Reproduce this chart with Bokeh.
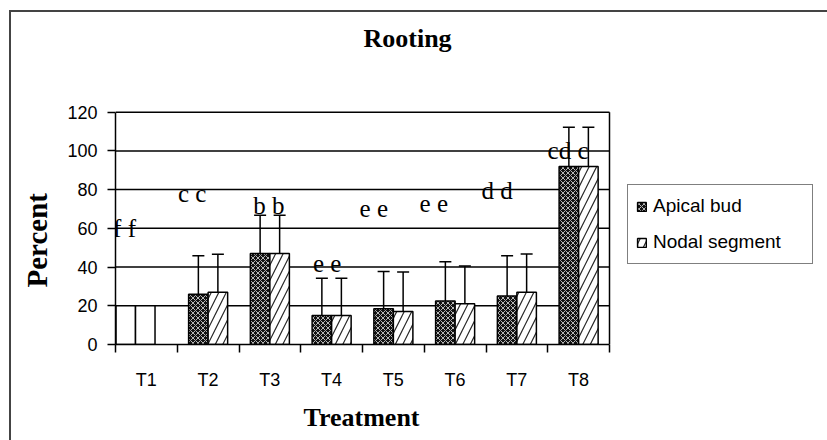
from bokeh.plotting import figure
from bokeh.models import (Range1d, FixedTicker, ColumnDataSource, Whisker, TeeHead,
                          Title, Legend, LegendItem)
from bokeh.core.properties import value
from bokeh.embed import file_html
from bokeh.resources import INLINE

# ---- data ----
categories = ["T1", "T2", "T3", "T4", "T5", "T6", "T7", "T8"]
apical = [20, 26, 47, 15, 18.5, 22.5, 25, 92]
nodal = [20, 27, 47, 15, 17, 21, 27, 92]
apical_err = [None, 19.8, 19.7, 19.2, 19.2, 20.3, 20.9, 20.2]
nodal_err = [None, 19.6, 19.7, 19.2, 20.4, 19.6, 19.8, 20.2]
letters = ["f f", "c c", "b b", "e e", "e e", "e e", "d d", "cd c"]
yticks = [0, 20, 40, 60, 80, 100, 120]

# ---- layout constants ----
W = 0.316                      # bar width (category units)
first_shift = -0.176           # first group drawn shifted in the original
letter_dx = [-0.354, -0.258, -0.017, -0.072, -0.317, -0.345, -0.319, -0.172]
letter_y = [60, 78, 71.6, 41.6, 70.4, 73, 79.5, 100]

n = len(categories)
centers = [i + 0.5 for i in range(n)]
shift = [first_shift if i == 0 else 0.0 for i in range(n)]
ax = [centers[i] + shift[i] - W / 2 for i in range(n)]
nx = [centers[i] + shift[i] + W / 2 for i in range(n)]
hatch_a = [" " if e is None else "x" for e in apical_err]
hatch_n = [" " if e is None else "/" for e in nodal_err]
fill_a = ["white" if e is None else "#111111" for e in apical_err]

FIG_W, FIG_H = 827, 440
LEFT, BOTTOM = 115, 95
unit_px = 61.75                      # px per category
val_px = 1.9417                      # px per percent unit
x_end = (FIG_W - LEFT) / unit_px
y_end = (FIG_H - BOTTOM) / val_px

p = figure(width=FIG_W, height=FIG_H, x_range=Range1d(0, x_end), y_range=Range1d(0, y_end),
           min_border_left=LEFT, min_border_right=0, min_border_top=0,
           min_border_bottom=BOTTOM, output_backend="svg", toolbar_location=None)

# page-frame lines (left and top edge of the original figure box)
p.border_fill_color = None
p.background_fill_color = None
p.styles = {"background": "linear-gradient(#444,#444) 9px 10px / 2px 100% no-repeat, "
                          "linear-gradient(#444,#444) 9px 10px / 100% 2px no-repeat, white"}

p.outline_line_color = None
p.grid.grid_line_color = None

# horizontal gridlines + right edge of the plotting area
grid_y = yticks[1:]
p.segment(x0=[0] * len(grid_y), x1=[n] * len(grid_y), y0=grid_y, y1=grid_y,
          line_color="black", line_width=1.5)
p.segment(x0=[n], x1=[n], y0=[0], y1=[yticks[-1]], line_color="black", line_width=1.5)

src_a = ColumnDataSource(dict(x=ax, top=apical, hatch=hatch_a, fill=fill_a))
src_n = ColumnDataSource(dict(x=nx, top=nodal, hatch=hatch_n))

ra = p.vbar(x="x", top="top", bottom=0, width=W, source=src_a, fill_color="fill",
            line_color="black", line_width=1.5, hatch_pattern="hatch",
            hatch_color="white", hatch_scale=5, hatch_weight=0.7)
rn = p.vbar(x="x", top="top", bottom=0, width=W, source=src_n, fill_color="white",
            line_color="black", line_width=1.5, hatch_pattern="hatch",
            hatch_color="black", hatch_scale=15, hatch_weight=1.2, hatch_alpha=0.85)

# error bars (upper only)
ex, elo, ehi = [], [], []
for i in range(n):
    if apical_err[i] is not None:
        ex.append(ax[i]); elo.append(apical[i]); ehi.append(apical[i] + apical_err[i])
    if nodal_err[i] is not None:
        ex.append(nx[i]); elo.append(nodal[i]); ehi.append(nodal[i] + nodal_err[i])
src_e = ColumnDataSource(dict(base=ex, lower=elo, upper=ehi))
wh = Whisker(source=src_e, base="base", lower="lower", upper="upper",
             dimension="height", lower_head=None,
             upper_head=TeeHead(size=12, line_width=1.5, line_color="black"),
             line_width=1.5, line_color="black", level="overlay")
p.add_layout(wh)

# significance letters
p.text(x=[centers[i] + letter_dx[i] for i in range(n)], y=letter_y, text=letters,
       text_font=value("Liberation Serif"), text_font_size="25px",
       text_align="center", text_baseline="alphabetic", text_color="black")

# chart title (drawn in the open area above the bars)
p.text(x=[4.016], y=[158.2], text=["Rooting"], text_font=value("Liberation Serif"),
       text_font_style="bold", text_font_size="26px", text_align="left",
       text_baseline="alphabetic", text_color="black")

# axes
p.xaxis.bounds = (0, n)
p.xaxis.ticker = FixedTicker(ticks=centers, minor_ticks=list(range(n + 1)))
p.xaxis.major_label_overrides = {centers[i]: categories[i] for i in range(n)}
p.xaxis.major_tick_out = 0
p.xaxis.major_tick_in = 0
p.xaxis.minor_tick_out = 8
p.xaxis.minor_tick_in = 0
p.xaxis.minor_tick_line_color = "black"
p.xaxis.minor_tick_line_width = 1.5
p.xaxis.major_label_standoff = 17
p.yaxis.bounds = (0, yticks[-1])
p.yaxis.ticker = FixedTicker(ticks=yticks)
p.yaxis.major_tick_out = 8
p.yaxis.major_tick_in = 0
p.yaxis.minor_tick_line_color = None
p.yaxis.major_label_standoff = 10
for a in (p.xaxis, p.yaxis):
    a.axis_line_color = "black"
    a.axis_line_width = 1.5
    a.major_tick_line_color = "black"
    a.major_tick_line_width = 1.5
    a.major_label_text_font = "Liberation Sans"
    a.major_label_text_font_size = "18px"
    a.major_label_text_color = "black"

# y-axis title, centred beside the value axis
yt = Title(text="Percent", align="left", offset=57, standoff=23,
           text_font="Liberation Serif", text_font_style="bold",
           text_font_size="29px", text_color="black")
p.add_layout(yt, "left")

# x-axis title, centred under the bar area
xt = Title(text="Treatment", align="left", offset=188, standoff=17,
           text_font="Liberation Serif", text_font_style="bold",
           text_font_size="26px", text_color="black")
p.add_layout(xt, "below")

legend = Legend(items=[LegendItem(label="Apical bud", renderers=[ra], index=1),
                       LegendItem(label="Nodal segment", renderers=[rn], index=1)],
                location=(512, 80), orientation="vertical",
                label_text_font="Liberation Sans", label_text_font_size="19px",
                label_text_color="black", glyph_width=11, glyph_height=11,
                label_standoff=6, label_width=151, label_height=26, spacing=10,
                padding=8, margin=0, border_line_color="black", border_line_width=1.5,
                background_fill_color="white", background_fill_alpha=1)
p.add_layout(legend, "center")

open("out.html", "w").write(file_html(p, INLINE))
